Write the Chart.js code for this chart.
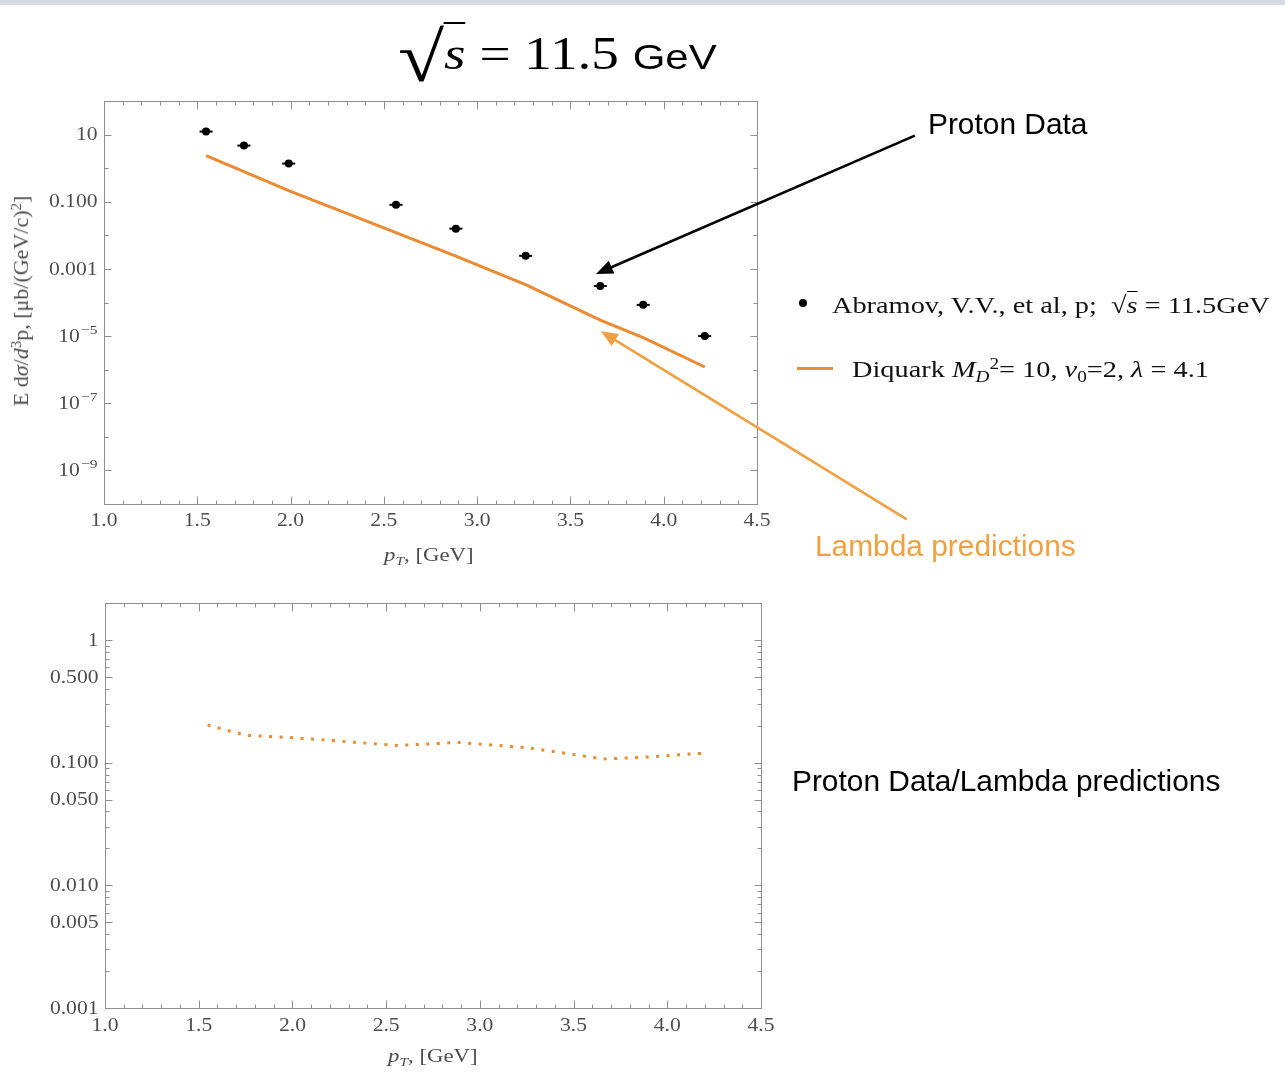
<!DOCTYPE html>
<html>
<head>
<meta charset="utf-8">
<script src="https://cdn.jsdelivr.net/npm/chart.js@4.4.1/dist/chart.umd.min.js"></script>
<style>
  body { margin: 0; background: #fff; width: 1285px; height: 1086px; overflow: hidden; position: relative; font-family: "Liberation Serif", serif; }
  .strip { position: absolute; left: 0; top: 0; width: 1285px; height: 5px; background: #d7dbe3; }
  canvas { position: absolute; left: 0; }
  #topChart { top: 0; }
  #ratioChart { top: 580px; }
  .txt { position: absolute; white-space: nowrap; transform-origin: left top; line-height: 1; }
  .sans { font-family: "Liberation Sans", Arial, sans-serif; }
  sup, sub { font-size: 0.68em; line-height: 0; position: relative; vertical-align: baseline; }
  sup { top: -0.5em; }
  sub { top: 0.3em; }
  #title { left: 398px; top: 31px; font-size: 46px; transform: scaleX(1.2); }
  #title .rad { font-size: 70px; line-height: 0; position: relative; top: 12px; }
  #title .ovl { border-top: 2.5px solid #000; padding-top: 4px; }
  #title .sans { font-size: 35px; }
  .note { font-size: 29px; transform: scaleX(1.03); }
  .ytitle { position: absolute; left: 21px; top: 301px; font-size: 22px; color: #4d4d4d; white-space: nowrap;
            transform: translate(-50%, -50%) rotate(-90deg); }
  .xtitle { font-size: 19px; color: #4d4d4d; transform: scaleX(1.2); }
  .leg { font-size: 24px; color: #111; transform: scaleX(1.18); }
  .leg .ovl { border-top: 1.5px solid #000; }
  .bullet { position: absolute; left: 799px; top: 299px; width: 8px; height: 8px; border-radius: 50%; background: #000; }
  .legline { position: absolute; left: 797px; top: 367px; width: 36px; height: 3px; background: #ec8a32; }
</style>
</head>
<body>
<div class="strip"></div>
<canvas id="topChart" width="1285" height="580" style="width:1285px;height:580px"></canvas>
<canvas id="ratioChart" width="1285" height="506" style="width:1285px;height:506px"></canvas>

<div id="title" class="txt"><span class="rad">√</span><span class="ovl"><i>s</i></span> = 11.5 <span class="sans">GeV</span></div>

<div class="txt note sans" style="left:928px; top:110px;">Proton Data</div>
<div class="txt note sans" style="left:815px; top:532px; color:#f0a040;">Lambda predictions</div>
<div class="txt note sans" style="left:792px; top:767px;">Proton Data/Lambda predictions</div>

<div class="bullet"></div>
<div class="txt leg" style="left:832px; top:293px;">Abramov, V.V., et al, p;&nbsp; √<span class="ovl"><i>s</i></span> = 11.5GeV</div>
<div class="legline"></div>
<div class="txt leg" style="left:852px; top:357px;">Diquark <i>M</i><sub><i>D</i></sub><sup>2</sup>= 10, <i>ν</i><sub>0</sub>=2, <i>λ</i> = 4.1</div>

<div class="ytitle">E d<i>σ</i>/<i>d</i><sup>3</sup>p, [μb/(GeV/c)<sup>2</sup>]</div>
<div class="txt xtitle" style="left:384px; top:545px;"><i>p</i><sub><i>T</i></sub>, [GeV]</div>
<div class="txt xtitle" style="left:388px; top:1046px;"><i>p</i><sub><i>T</i></sub>, [GeV]</div>

<script>
// 데이터 =====================================================================
const pT          = [1.547, 1.75, 1.99, 2.565, 2.886, 3.26, 3.66, 3.89, 4.22];          // X축 (GeV)
const protonData  = [12.3, 4.7, 1.37, 0.081, 0.0158, 0.00245, 3.1e-4, 8.5e-5, 1.0e-5];   // Abramov p
const diquarkPred = [2.35, 0.79, 0.215, 0.012, 0.0024, 3.4e-4, 3.0e-5, 9.0e-6, 1.2e-6];  // 람다 예측
const ratioPred   = [0.203, 0.167, 0.160, 0.138, 0.146, 0.132, 0.107, 0.111, 0.120];    // 비율

// 눈금 라벨
const xTickValues = [1.0, 1.5, 2.0, 2.5, 3.0, 3.5, 4.0, 4.5];
const xTickLabels = ['1.0', '1.5', '2.0', '2.5', '3.0', '3.5', '4.0', '4.5'];
const topYTickValues = [10, 0.1, 0.001, 1e-5, 1e-7, 1e-9];
const topYTickLabels = ['10', '0.100', '0.001', '10^-5', '10^-7', '10^-9'];
const ratioYTickValues = [1, 0.5, 0.1, 0.05, 0.01, 0.005, 0.001];
const ratioYTickLabels = ['1', '0.500', '0.100', '0.050', '0.010', '0.005', '0.001'];

// 화살표 (데이터 좌표)
const protonArrow = { from: [5.346, 9.3], to: [3.637, 7.1e-4], color: '#000000' };
const lambdaArrow = { from: [5.303, 3.5e-11], to: [3.663, 1.4e-5], color: '#f0a040' };

const ORANGE = '#ec8a32';
const FRAME = '#8f8f8f';
const LABEL = '#4d4d4d';
const SX = 1.2;   // 원본 이미지 가로 늘어남 보정

// 눈금 라벨 그리기 (10^-5 형태 지원)
function drawTickLabel(ctx, text, x, y, align) {
    const parts = text.split('^');
    const sup = parts[1] ? parts[1].replace('-', '\u2212') : '';
    ctx.save();
    ctx.font = '18px "Liberation Serif"';
    const baseW = ctx.measureText(parts[0]).width * SX;
    ctx.font = '13px "Liberation Serif"';
    const supW = sup ? ctx.measureText(sup).width * SX + 1 : 0;
    const left = align === 'right' ? x - baseW - supW : x - (baseW + supW) / 2;
    ctx.fillStyle = LABEL;
    ctx.textAlign = 'left';
    ctx.textBaseline = 'middle';
    ctx.save();
    ctx.translate(left, y + 1);
    ctx.scale(SX, 1);
    ctx.font = '18px "Liberation Serif"';
    ctx.fillText(parts[0], 0, 0);
    ctx.restore();
    if (sup) {
        ctx.translate(left + baseW + 1, y - 6);
        ctx.scale(SX, 1);
        ctx.font = '13px "Liberation Serif"';
        ctx.fillText(sup, 0, 0);
    }
    ctx.restore();
}

function tick(ctx, x0, y0, x1, y1) {
    ctx.beginPath();
    ctx.moveTo(x0, y0);
    ctx.lineTo(x1, y1);
    ctx.stroke();
}

// 매스매티카 스타일 프레임 + 안쪽 눈금
const mmaFrame = {
    id: 'mmaFrame',
    afterDatasetsDraw(chart, args, o) {
        const { ctx, chartArea: a } = chart;
        const xs = chart.scales.x, ys = chart.scales.y;
        ctx.save();
        ctx.strokeStyle = FRAME;
        ctx.lineWidth = 1;
        const L = Math.round(a.left) + 0.5, R = Math.round(a.right) + 0.5;
        const T = Math.round(a.top) + 0.5, B = Math.round(a.bottom) + 0.5;
        ctx.strokeRect(L, T, R - L, B - T);

        // x 눈금 (0.1 간격)
        for (let i = 0; i <= 35; i++) {
            const v = xs.min + i * 0.1;
            const px = Math.round(xs.getPixelForValue(v)) + 0.5;
            const len = i % 5 === 0 ? 8 : 4;
            tick(ctx, px, B, px, B - len);
            tick(ctx, px, T, px, T + len);
        }
        // y 눈금
        o.yMinor.forEach(v => {
            const py = Math.round(ys.getPixelForValue(v)) + 0.5;
            const major = o.yValues.some(m => Math.abs(Math.log10(m) - Math.log10(v)) < 1e-6);
            const len = major ? 7 : 4;
            tick(ctx, L, py, L + len, py);
            tick(ctx, R, py, R - len, py);
        });

        // 라벨
        xTickValues.forEach((v, i) => {
            drawTickLabel(ctx, xTickLabels[i], xs.getPixelForValue(v), B + o.xLabelGap, 'center');
        });
        o.yValues.forEach((v, i) => {
            drawTickLabel(ctx, o.yLabels[i], L - 7, ys.getPixelForValue(v), 'right');
        });
        ctx.restore();
    }
};

// 화살표
const callouts = {
    id: 'callouts',
    afterDraw(chart, args, o) {
        const { ctx } = chart;
        const xs = chart.scales.x, ys = chart.scales.y;
        (o.arrows || []).forEach(ar => {
            const x0 = xs.getPixelForValue(ar.from[0]), y0 = ys.getPixelForValue(ar.from[1]);
            const x1 = xs.getPixelForValue(ar.to[0]), y1 = ys.getPixelForValue(ar.to[1]);
            const ang = Math.atan2(y1 - y0, x1 - x0);
            const hl = 17, hw = 7;
            const c = Math.cos(ang), s = Math.sin(ang);
            ctx.save();
            ctx.strokeStyle = ar.color;
            ctx.fillStyle = ar.color;
            ctx.lineWidth = 2.6;
            ctx.beginPath();
            ctx.moveTo(x0, y0);
            ctx.lineTo(x1 - c * hl * 0.8, y1 - s * hl * 0.8);
            ctx.stroke();
            ctx.beginPath();
            ctx.moveTo(x1, y1);
            ctx.lineTo(x1 - c * hl - s * hw, y1 - s * hl + c * hw);
            ctx.lineTo(x1 - c * hl + s * hw, y1 - s * hl - c * hw);
            ctx.closePath();
            ctx.fill();
            ctx.restore();
        });
    }
};

function logMinor(lo, hi, limit) {
    const out = [];
    for (let e = lo; e <= hi; e++) {
        for (let k = 1; k <= 9; k++) {
            const v = k * Math.pow(10, e);
            if (v <= limit * 1.0001) out.push(v);
        }
    }
    return out;
}

function decades(lo, hi) {
    const out = [];
    for (let e = lo; e <= hi; e++) out.push(Math.pow(10, e));
    return out;
}

const points = (ys) => pT.map((x, i) => ({ x: x, y: ys[i] }));

// 위 차트: 단면적
const topChart = new Chart(document.getElementById('topChart'), {
    type: 'scatter',
    data: {
        datasets: [
            {   // 에러바 모양 (가로선)
                data: points(protonData),
                pointStyle: 'line',
                pointRadius: 6.5,
                borderColor: '#000',
                borderWidth: 2,
                showLine: false
            },
            {   // 양성자 데이터
                data: points(protonData),
                pointStyle: 'circle',
                pointRadius: 4,
                backgroundColor: '#000',
                borderColor: '#000',
                borderWidth: 0,
                showLine: false
            },
            {   // 다이쿼크 예측
                data: points(diquarkPred),
                showLine: true,
                pointRadius: 0,
                borderColor: ORANGE,
                borderWidth: 3,
                tension: 0
            }
        ]
    },
    options: {
        responsive: false,
        devicePixelRatio: 1,
        animation: false,
        layout: { padding: { left: 104, top: 101, right: 1285 - 757, bottom: 580 - 504 } },
        scales: {
            x: { type: 'linear', min: 1, max: 4.5, display: false },
            y: { type: 'logarithmic', min: 1e-10, max: 100, display: false }
        },
        plugins: {
            legend: { display: false },
            tooltip: { enabled: false },
            mmaFrame: { yMinor: decades(-10, 2), yValues: topYTickValues, yLabels: topYTickLabels, xLabelGap: 16 },
            callouts: { arrows: [protonArrow, lambdaArrow] }
        }
    },
    plugins: [mmaFrame, callouts]
});

// 아래 차트: 비율
const ratioChart = new Chart(document.getElementById('ratioChart'), {
    type: 'scatter',
    data: {
        datasets: [{
            data: points(ratioPred),
            showLine: true,
            pointRadius: 0,
            borderColor: ORANGE,
            borderWidth: 3,
            borderDash: [3, 7.5],
            tension: 0
        }]
    },
    options: {
        responsive: false,
        devicePixelRatio: 1,
        animation: false,
        layout: { padding: { left: 105, top: 23, right: 1285 - 761, bottom: 506 - 428 } },
        scales: {
            x: { type: 'linear', min: 1, max: 4.5, display: false },
            y: { type: 'logarithmic', min: 0.001, max: 2, display: false }
        },
        plugins: {
            legend: { display: false },
            tooltip: { enabled: false },
            mmaFrame: { yMinor: logMinor(-3, 0, 2), yValues: ratioYTickValues, yLabels: ratioYTickLabels, xLabelGap: 17 }
        }
    },
    plugins: [mmaFrame]
});
</script>
</body>
</html>
